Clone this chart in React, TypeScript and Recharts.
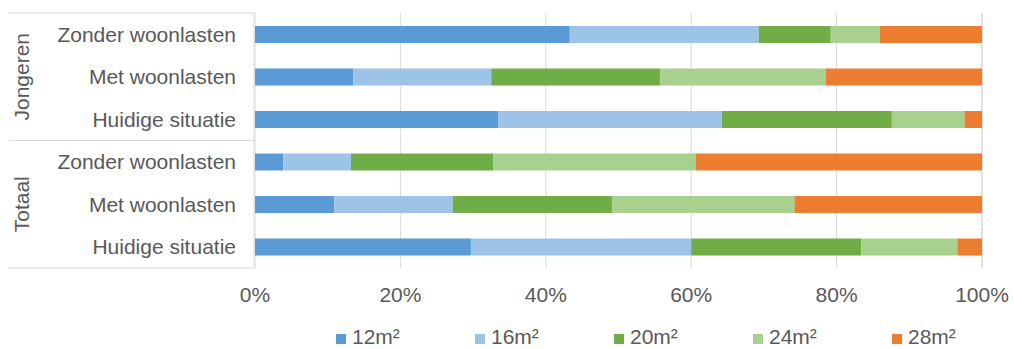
import { BarChart, Bar, XAxis, YAxis, CartesianGrid } from "recharts";

const groups = ["Jongeren", "Totaal"];
const situations = ["Zonder woonlasten", "Met woonlasten", "Huidige situatie"];
const sizes = ["12m²", "16m²", "20m²", "24m²", "28m²"];
const sizeColors = ["#5B9BD5", "#9DC3E6", "#70AD47", "#A9D18E", "#ED7D31"];
const xTicks = [0, 20, 40, 60, 80, 100];

// shares per row, top to bottom: Jongeren (zonder, met, huidig), Totaal (zonder, met, huidig)
const s12 = [43.3, 13.5, 33.5, 3.9, 10.9, 29.7];
const s16 = [26.0, 19.0, 30.7, 9.3, 16.3, 30.3];
const s20 = [9.9, 23.2, 23.4, 19.6, 21.9, 23.4];
const s24 = [6.7, 22.8, 10.0, 27.8, 25.1, 13.2];
const s28 = [14.1, 21.5, 2.4, 39.4, 25.8, 3.4];
const seriesValues = [s12, s16, s20, s24, s28];

const rows = groups.flatMap((g) => situations.map((s) => ({ group: g, label: s })));
const data = rows.map((r, i) => {
  const row: Record<string, string | number> = { id: `r${i}`, label: r.label, group: r.group };
  sizes.forEach((_, k) => {
    row[`s${k}`] = seriesValues[k][i];
  });
  return row;
});

const W = 1014;
const H = 349;
const PLOT_TOP = 13;
const PLOT_BOTTOM = 268;
const PLOT_LEFT = 255;
const PLOT_RIGHT = 982;
const TEXT = "#595959";
const LINE = "#d9d9d9";
const FONT = 21;

function CategoryTick(props: any) {
  const { y, payload } = props;
  const index = props.index ?? payload?.index ?? 0;
  const row = rows[index];
  const band = (PLOT_BOTTOM - PLOT_TOP) / rows.length;
  const per = situations.length;
  const isGroupMiddle = index % per === Math.floor(per / 2);
  return (
    <g>
      {index === 0 && (
        <g stroke={LINE} strokeWidth={1}>
          <line x1={9} x2={PLOT_LEFT} y1={PLOT_TOP} y2={PLOT_TOP} />
          {groups.map((_, gi) => (
            <line
              key={gi}
              x1={9}
              x2={PLOT_LEFT}
              y1={PLOT_TOP + band * per * (gi + 1)}
              y2={PLOT_TOP + band * per * (gi + 1)}
            />
          ))}
          <line x1={PLOT_LEFT - 1} x2={PLOT_LEFT - 1} y1={PLOT_TOP} y2={PLOT_BOTTOM} />
        </g>
      )}
      <text x={236} y={y} dy="0.35em" textAnchor="end" fill={TEXT} fontSize={FONT}>
        {row?.label}
      </text>
      {isGroupMiddle && (
        <text
          x={22}
          y={y}
          dy="0.35em"
          textAnchor="middle"
          fill={TEXT}
          fontSize={FONT}
          transform={`rotate(-90, 22, ${y})`}
        >
          {row?.group}
        </text>
      )}
    </g>
  );
}

function PercentTick(props: any) {
  const { x, payload } = props;
  return (
    <text x={x} y={302} textAnchor="middle" fill={TEXT} fontSize={FONT}>
      {`${payload.value}%`}
    </text>
  );
}

export default function App() {
  return (
    <div
      style={{
        position: "fixed",
        left: 0,
        top: 0,
        width: W,
        height: 349,
        overflow: "hidden",
        background: "#fff",
        fontFamily: '"Liberation Sans", Arial, sans-serif',
      }}
    >
      <BarChart
        width={W}
        height={H}
        data={data}
        layout="vertical"
        margin={{ top: PLOT_TOP, right: W - PLOT_RIGHT, bottom: 0, left: 0 }}
      >
        <CartesianGrid horizontal={false} stroke={LINE} strokeWidth={1} />
        <XAxis
          type="number"
          domain={[0, 100]}
          ticks={xTicks}
          axisLine={false}
          tickLine={false}
          tick={<PercentTick />}
          height={H - PLOT_BOTTOM}
          interval={0}
        />
        <YAxis
          type="category"
          dataKey="id"
          width={PLOT_LEFT}
          axisLine={false}
          tickLine={false}
          tick={<CategoryTick />}
          interval={0}
        />
        {sizes.map((s, k) => (
          <Bar
            key={s}
            dataKey={`s${k}`}
            name={s}
            stackId="a"
            fill={sizeColors[k]}
            barSize={17}
            isAnimationActive={false}
          />
        ))}
      </BarChart>
      <div
        style={{
          position: "absolute",
          top: 326,
          left: 336,
          display: "flex",
          fontSize: FONT,
          lineHeight: "22px",
          color: TEXT,
        }}
      >
        {sizes.map((s, k) => (
          <div key={s} style={{ width: 139, display: "flex", alignItems: "flex-start" }}>
            <span
              style={{
                display: "inline-block",
                width: 10,
                height: 10,
                marginTop: 8,
                marginRight: 6,
                background: sizeColors[k],
              }}
            />
            <span>{s}</span>
          </div>
        ))}
      </div>
    </div>
  );
}
